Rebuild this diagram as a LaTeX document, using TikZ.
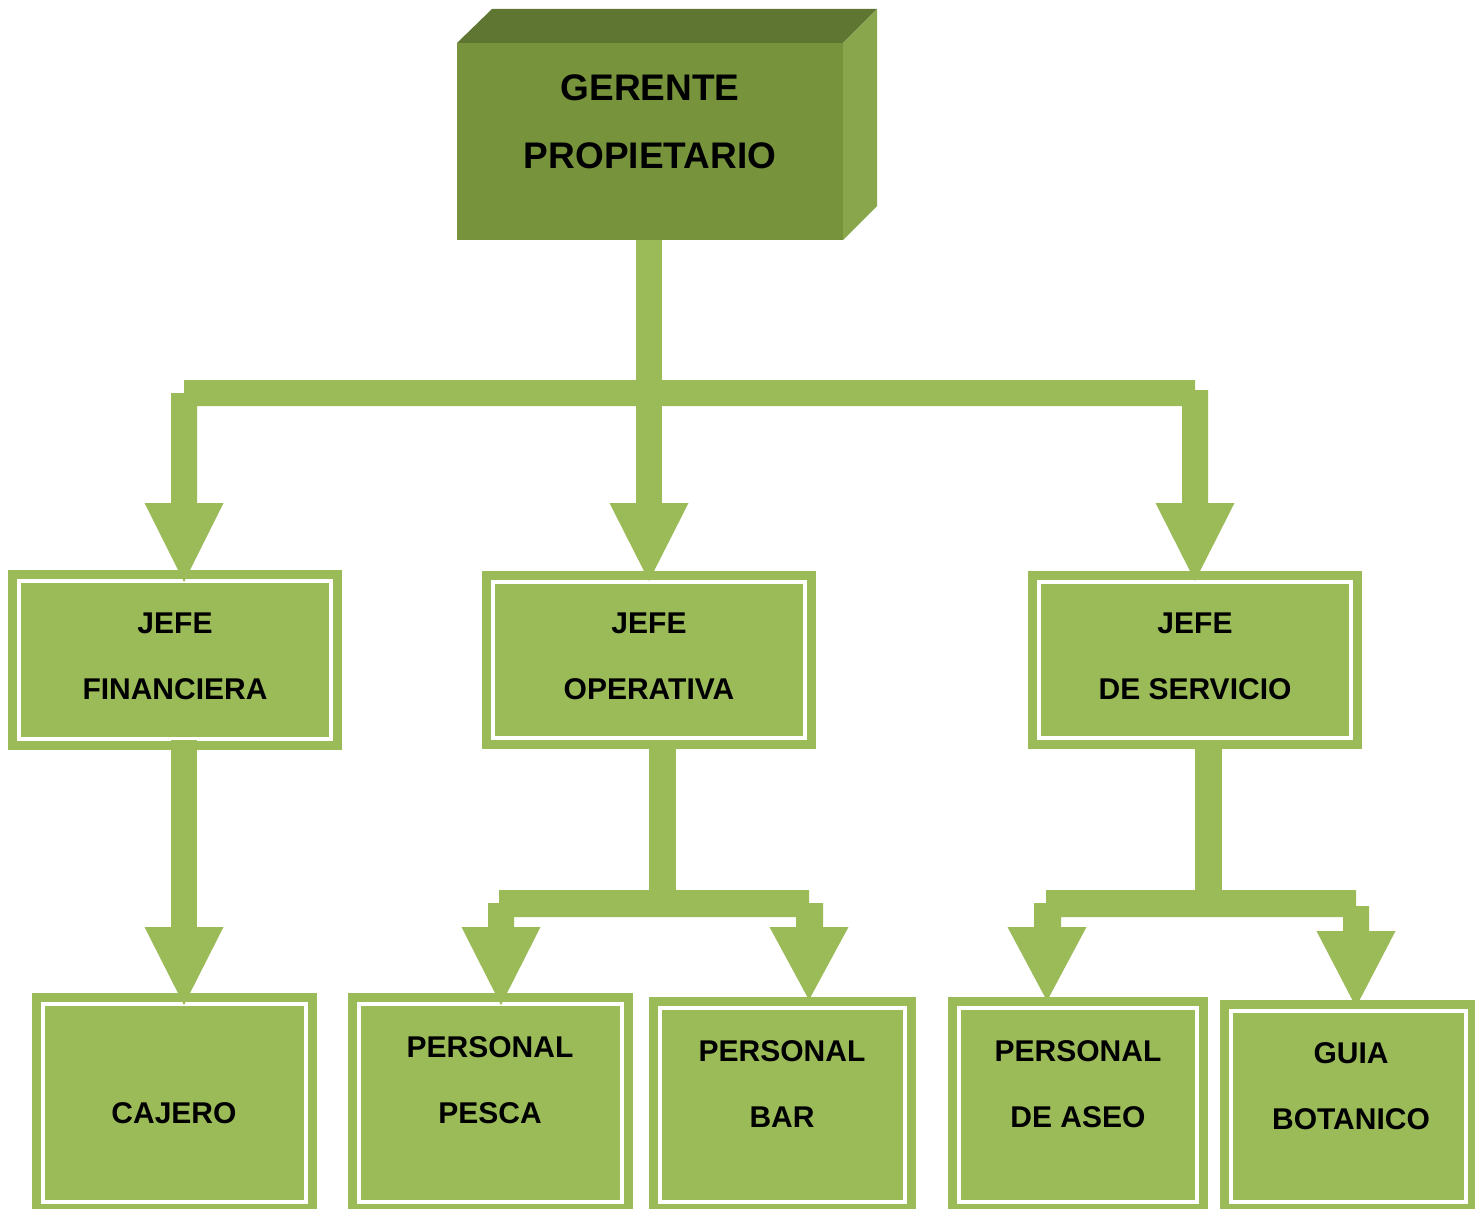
\documentclass[tikz,border=0pt]{standalone}
\usepackage{fontspec}
\setmainfont{Liberation Sans}
\definecolor{cgreen}{HTML}{9BBB59}
\definecolor{cfront}{HTML}{77933C}
\definecolor{ctop}{HTML}{5F7532}
\definecolor{cside}{HTML}{8AA64D}
\newcommand\obox[5]{%
  \fill[boxfill] (#2,#3) rectangle (#4,#5);
  \draw[innerline] ({#2+11},{#3+11}) rectangle ({#4-11},{#5-11});
  \coordinate (#1) at ({(#2+#4)/2},{(#3+#5)/2});}
\newcommand\dhead[4]{\fill[conn] ({#2-39.5},#3) coordinate (#1-l) -- (#2,#4) coordinate (#1) -- ({#2+39.5},#3) -- cycle;}
\begin{document}
\begin{tikzpicture}[x=0.75pt,y=-0.75pt,
  boxfill/.style={fill=cgreen},
  innerline/.style={draw=white,line width=3pt},
  conn/.style={fill=cgreen},
  lbl/.style={font=\bfseries\fontsize{22.5}{49.5}\selectfont,align=center,inner sep=0pt,text=black},
  toplbl/.style={font=\bfseries\fontsize{27.75}{51}\selectfont,align=center,inner sep=0pt,text=black}]
\useasboundingbox (0,0) rectangle (1475,1209);
\clip (0,0) rectangle (1475,1209);
% top 3D box
\fill[ctop] (457,43) -- (492,9) -- (877,9) -- (843,43) -- cycle;
\fill[cside] (843,43) -- (877,9) -- (877,206) -- (843,240) -- cycle;
\fill[cfront] (457,43) rectangle (843,240);
\coordinate (top) at (650,141);
\node[toplbl] (gp) at (650,122) {GERENTE\\PROPIETARIO};
% level 2 boxes
\obox{b1}{8}{570}{342}{750}
\obox{b2}{482}{571}{816}{749}
\obox{b3}{1028}{571}{1362}{749}
\node[lbl] (lb1) at (175,656) {JEFE\\FINANCIERA};
\node[lbl] (lb2) at (649,656) {JEFE\\OPERATIVA};
\node[lbl] (lb3) at (1195,656) {JEFE\\DE SERVICIO};
% level 3 boxes
\obox{c1}{32}{993}{317}{1213}
\obox{c2}{348}{993}{633}{1213}
\obox{c3}{649}{997}{916}{1213}
\obox{c4}{948}{997}{1208}{1213}
\obox{c5}{1220}{1000}{1477}{1213}
\node[lbl] (lc1) at (174,1113) {CAJERO};
\node[lbl] (lc2) at (490,1080) {PERSONAL\\PESCA};
\node[lbl] (lc3) at (782,1084) {PERSONAL\\BAR};
\node[lbl] (lc4) at (1078,1084) {PERSONAL\\DE ASEO};
\node[lbl] (lc5) at (1351,1086) {GUIA\\BOTANICO};
% connectors from top
\fill[conn] (636,240) rectangle (662,503);
\dhead{a2}{649}{503}{581}
\fill[conn] (184,380) -- (649,380) -- (649,406) -- (197,406) -- (197,503) -- (171,503) -- (171,393) -- (184,393) -- cycle;
\dhead{a1}{184}{503}{582}
\fill[conn] (649,380) -- (1195,380) -- (1195,390) -- (1208,390) -- (1208,503) -- (1182,503) -- (1182,406) -- (649,406) -- cycle;
\dhead{a3}{1195}{503}{581}
% from b1
\fill[conn] (171,740) rectangle (197,927);
\dhead{d1}{184}{927}{1005}
% from b2
\fill[conn] (649,740) rectangle (676,890);
\fill[conn] (499,890) -- (662,890) -- (662,917) -- (514,917) -- (514,927) -- (488,927) -- (488,903) -- (499,903) -- cycle;
\dhead{d2}{501}{927}{1005}
\fill[conn] (662,890) -- (809,890) -- (809,903) -- (823,903) -- (823,927) -- (796,927) -- (796,917) -- (662,917) -- cycle;
\dhead{d3}{809}{927}{1000}
% from b3
\fill[conn] (1195,740) rectangle (1222,890);
\fill[conn] (1046,890) -- (1208,890) -- (1208,917) -- (1061,917) -- (1061,927) -- (1034,927) -- (1034,903) -- (1046,903) -- cycle;
\dhead{d4}{1047}{927}{1001}
\fill[conn] (1208,890) -- (1356,890) -- (1356,906) -- (1369,906) -- (1369,931) -- (1343,931) -- (1343,917) -- (1208,917) -- cycle;
\dhead{d5}{1356}{931}{1007}
\end{tikzpicture}
\end{document}
